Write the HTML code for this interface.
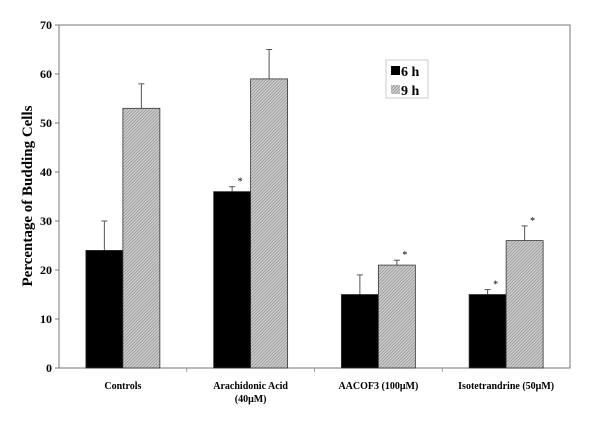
<!DOCTYPE html>
<html><head><meta charset="utf-8"><style>body{margin:0;background:#fff}svg{display:block;font-family:"Liberation Serif",serif;font-weight:bold}</style></head>
<body>
<svg width="600" height="423" viewBox="0 0 600 423">
<defs><pattern id="hatch" width="2.2" height="2.2" patternUnits="userSpaceOnUse" patternTransform="rotate(45)"><rect width="2.2" height="2.2" fill="#d0d0d0"/><rect width="0.9" height="2.2" fill="#999"/></pattern></defs>
<g id="chart"></g>
</svg>
<script>
const categories=["Controls","Arachidonic Acid|(40\u03bcM)","AACOF3 (100\u03bcM)","Isotetrandrine (50\u03bcM)"];
const values6h=[24,36,15,15];
const values9h=[53,59,21,26];
const err6h=[6,1,4,1];
const err9h=[5,6,1,3];
const star6h=[false,true,false,true];
const star9h=[false,false,true,true];
const yTicks=[0,10,20,30,40,50,60,70];
const NS="http://www.w3.org/2000/svg";
const L=59,R=570,T=25,B=368,YMAX=70;
const y=v=>B-(v/YMAX)*(B-T);
const bw=(R-L)/categories.length;
const g=document.getElementById('chart');
function mk(t,a,p){const e=document.createElementNS(NS,t);for(const k in a)e.setAttribute(k,a[k]);(p||g).appendChild(e);return e;}
let e;
e=mk('rect',{x:L,y:T,width:R-L,height:B-T,fill:'none',stroke:'#777','stroke-width':1});


yTicks.forEach(v=>{
 e=mk('line',{x1:L-4,x2:L,y1:y(v),y2:y(v),stroke:'#777'});
 
 
 e=mk('text',{x:L-7,y:y(v)+4,'text-anchor':'end','font-size':12});e.textContent=v;
 
 
});
for(let i=1;i<categories.length;i++){e=mk('line',{x1:L+bw*i,x2:L+bw*i,y1:B,y2:B+4,stroke:'#999'});
 
 }
const w=37;
categories.forEach((c,i)=>{
 const cx=L+bw*(i+0.5);
 [[values6h,err6h,star6h,'#000',cx-w,'6h'],[values9h,err9h,star9h,'url(#hatch)',cx,'9h']].forEach(([vals,errs,stars,fill,x0,s])=>{
  const v=vals[i],top=y(v),et=y(v+errs[i]),m=x0+w/2;
  e=mk('line',{x1:m,x2:m,y1:top,y2:et,stroke:'#555'});
  
  
  e=mk('line',{x1:m-3,x2:m+3,y1:et,y2:et,stroke:'#555'});
  
  
  e=mk('rect',{x:x0,y:top,width:w,height:B-top,fill:fill,stroke:'#333','stroke-width':0.8});
  
  
  if(stars[i]){e=mk('text',{x:m+8,y:et-2,'font-size':10,'font-weight':'normal','text-anchor':'middle'});e.textContent='*';
   
   }
 });
 const lines=c.split('|');
 lines.forEach((ln,j)=>{e=mk('text',{x:cx,y:389+j*13,'text-anchor':'middle','font-size':10});e.textContent=ln;
  
  });
});
e=mk('text',{x:0,y:0,transform:'translate(32,196) rotate(-90)','text-anchor':'middle','font-size':15});e.textContent='Percentage of Budding Cells';


const lg=mk('g',{});


mk('rect',{x:386,y:60,width:42,height:38,fill:'#fff',stroke:'#ccc'},lg);
mk('rect',{x:391,y:66,width:9,height:9,fill:'#000'},lg);
mk('rect',{x:391,y:85,width:9,height:9,fill:'url(#hatch)'},lg);
e=mk('text',{x:401,y:76,'font-size':14},lg);e.textContent='6 h';


e=mk('text',{x:401,y:95,'font-size':14},lg);e.textContent='9 h';


</script>
</body></html>
